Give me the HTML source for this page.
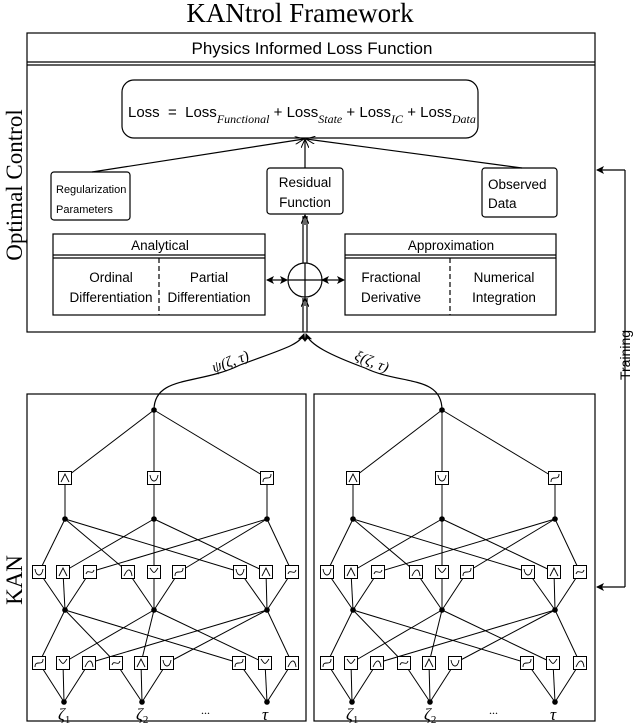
<!DOCTYPE html>
<html><head><meta charset="utf-8"><style>
html,body{margin:0;padding:0;background:#fff;width:640px;height:726px;overflow:hidden}
svg{display:block}
.s{font-family:"Liberation Sans",sans-serif}
.r{font-family:"Liberation Serif",serif}
</style></head><body>
<svg id="g" width="640" height="726" viewBox="0 0 640 726" xmlns="http://www.w3.org/2000/svg">
<defs>
<marker id="a" markerWidth="8" markerHeight="8" refX="7" refY="4" orient="auto" markerUnits="userSpaceOnUse"><path d="M0,0 L8,4 L0,8 L2,4 Z" fill="#000"/></marker>
<marker id="o" markerWidth="10" markerHeight="8" refX="9" refY="4" orient="auto" markerUnits="userSpaceOnUse"><path d="M0,0 L9,4 L0,8" fill="none" stroke="#000"/></marker>
</defs>
<text x="300" y="22" text-anchor="middle" class="r" font-size="27">KANtrol Framework</text>
<text transform="translate(22,185) rotate(-90)" text-anchor="middle" class="r" font-size="23">Optimal Control</text>
<text transform="translate(22,580) rotate(-90)" text-anchor="middle" class="r" font-size="23">KAN</text>
<g fill="none" stroke="#000" stroke-width="1.2">
<rect x="27" y="33" width="568" height="299"/>
<line x1="27" y1="62" x2="595" y2="62"/><line x1="27" y1="65" x2="595" y2="65"/>
<rect x="122" y="80" width="356" height="58" rx="12"/>
<rect x="51" y="172" width="79" height="48" rx="3"/>
<rect x="267" y="168" width="76" height="46" rx="3"/>
<rect x="482" y="168" width="75" height="49" rx="3"/>
<rect x="53" y="234" width="212" height="81"/>
<line x1="53" y1="255" x2="265" y2="255"/><line x1="53" y1="258" x2="265" y2="258"/>
<line x1="159" y1="258" x2="159" y2="315" stroke-dasharray="5,3"/>
<rect x="345" y="234" width="211" height="81"/>
<line x1="345" y1="255" x2="556" y2="255"/><line x1="345" y1="258" x2="556" y2="258"/>
<line x1="450" y1="258" x2="450" y2="315" stroke-dasharray="5,3"/>
<ellipse cx="305" cy="280" rx="17" ry="17"/>
<line x1="305" y1="263" x2="305" y2="297"/><line x1="288" y1="280" x2="322" y2="280"/>
<line x1="92" y1="172" x2="304" y2="139" marker-end="url(#o)"/>
<line x1="522" y1="168" x2="306" y2="139" marker-end="url(#o)"/>
<line x1="305" y1="168" x2="305" y2="139" marker-end="url(#o)"/>
<line x1="303" y1="263" x2="303" y2="216"/><line x1="307" y1="263" x2="307" y2="216"/>
<line x1="305" y1="225" x2="305" y2="215" marker-end="url(#o)"/>
<line x1="303" y1="332" x2="303" y2="298"/><line x1="307" y1="332" x2="307" y2="298"/>
<line x1="305" y1="306" x2="305" y2="298" marker-end="url(#o)"/>
<line x1="278" y1="280" x2="287" y2="280" marker-end="url(#a)"/><line x1="278" y1="280" x2="267" y2="280" marker-end="url(#a)"/>
<line x1="333" y1="280" x2="322" y2="280" marker-end="url(#a)"/><line x1="333" y1="280" x2="344" y2="280" marker-end="url(#a)"/>
<polyline points="625,170 625,587"/>
<line x1="625" y1="170" x2="597" y2="170" marker-end="url(#a)"/>
<line x1="625" y1="587" x2="597" y2="587" marker-end="url(#a)"/>
<rect x="27" y="394" width="279" height="327"/>
<rect x="314" y="394" width="281" height="327"/>
<path d="M154,410 C154,375 200,385 240,365 C280,350 300,345 304,334" marker-end="url(#a)"/>
<path d="M442,410 C442,375 400,385 365,368 C330,355 310,345 306,334" marker-end="url(#a)"/>
</g>
<text transform="translate(630,355) rotate(-90)" text-anchor="middle" class="s" font-size="14">Training</text>
<text x="312" y="54" text-anchor="middle" class="s" font-size="17">Physics Informed Loss Function</text>
<text x="128" y="117" class="s" font-size="15">Loss &#160;= &#160;Loss<tspan class="r" font-style="italic" font-size="12" dy="6">Functional</tspan><tspan dy="-6"> + Loss</tspan><tspan class="r" font-style="italic" font-size="12" dy="6">State</tspan><tspan dy="-6"> + Loss</tspan><tspan class="r" font-style="italic" font-size="12" dy="6">IC</tspan><tspan dy="-6"> + Loss</tspan><tspan class="r" font-style="italic" font-size="12" dy="6">Data</tspan></text>
<g class="s" font-size="11"><text x="56" y="193">Regularization</text><text x="56" y="213">Parameters</text></g>
<g class="s" font-size="13.5">
<text x="305" y="187" text-anchor="middle">Residual</text><text x="305" y="207" text-anchor="middle">Function</text>
<text x="488" y="189">Observed</text><text x="488" y="208">Data</text>
<text x="160" y="250" text-anchor="middle">Analytical</text>
<text x="451" y="250" text-anchor="middle">Approximation</text>
<text x="111" y="282" text-anchor="middle">Ordinal</text><text x="111" y="302" text-anchor="middle">Differentiation</text>
<text x="209" y="282" text-anchor="middle">Partial</text><text x="209" y="302" text-anchor="middle">Differentiation</text>
<text x="391" y="282" text-anchor="middle">Fractional</text><text x="391" y="302" text-anchor="middle">Derivative</text>
<text x="504" y="282" text-anchor="middle">Numerical</text><text x="504" y="302" text-anchor="middle">Integration</text>
</g>
<text transform="translate(232,366) rotate(-20)" text-anchor="middle" class="r" font-style="italic" font-size="15">ψ(ζ, τ)</text>
<text transform="translate(370,366) rotate(22)" text-anchor="middle" class="r" font-style="italic" font-size="15">ξ(ζ, τ)</text>
<g id="net"></g>
</svg>
<script>
var net=document.getElementById("net"),h="";
var glyphs=["M-4,2 C-2,-4 2,4 4,-2","M-4,4 L0,-4 L4,4","M-4,-3 C-3,5 3,5 4,-3","M-4,4 C-4,-4 4,4 4,-4","M-4,-4 C0,2 0,2 4,-4","M-4,4 C0,-5 3,-3 4,4"];
function net1(dx){
 var top=[154+dx,410],L1=[65,154,267],s1=[39,63,90,128,154,179,240,266,292],s2=[39,63,89,116,141,167,239,265,292],inp=[64,142,267];
 var ln=function(a,b,c,d){h+='<line x1="'+a+'" y1="'+b+'" x2="'+c+'" y2="'+d+'" stroke="#000" stroke-width="1"/>';};
 var dot=function(x,y){h+='<circle cx="'+x+'" cy="'+y+'" r="2.8" fill="#000"/>';};
 var sq=function(x,y,i){h+='<rect x="'+(x-6.5)+'" y="'+(y-6.5)+'" width="13" height="13" fill="#fff" stroke="#000" stroke-width="1"/><path transform="translate('+x+','+y+')" d="'+glyphs[i%6]+'" fill="none" stroke="#000" stroke-width="0.9"/>';};
 var i,j,k;
 for(i=0;i<3;i++){ln(top[0],top[1],L1[i]+dx,478);ln(L1[i]+dx,478,L1[i]+dx,519);}
 for(j=0;j<3;j++)for(k=0;k<3;k++){var x=s1[j*3+k]+dx;ln(L1[k]+dx,519,x,572);ln(x,572,L1[j]+dx,610);}
 for(j=0;j<3;j++)for(k=0;k<3;k++){var x=s2[j*3+k]+dx;ln(L1[k]+dx,610,x,663);ln(x,663,inp[j]+dx,702);}
 for(i=0;i<3;i++)sq(L1[i]+dx,478,i+1);
 for(i=0;i<9;i++){sq(s1[i]+dx,572,i*5+2);sq(s2[i]+dx,663,i*7+3);}
 dot(top[0],top[1]);for(i=0;i<3;i++){dot(L1[i]+dx,519);dot(L1[i]+dx,610);dot(inp[i]+dx,702);}
 h+='<g font-family="Liberation Serif,serif" font-style="italic" font-size="17"><text x="'+(58+dx)+'" y="720">ζ<tspan font-size="11" dy="3" font-style="normal">1</tspan></text><text x="'+(136+dx)+'" y="720">ζ<tspan font-size="11" dy="3" font-style="normal">2</tspan></text><text x="'+(201+dx)+'" y="714" font-style="normal" font-size="12">...</text><text x="'+(262+dx)+'" y="720">τ</text></g>';
}
net1(0);net1(288);
net.innerHTML=h;
</script>
</body></html>
